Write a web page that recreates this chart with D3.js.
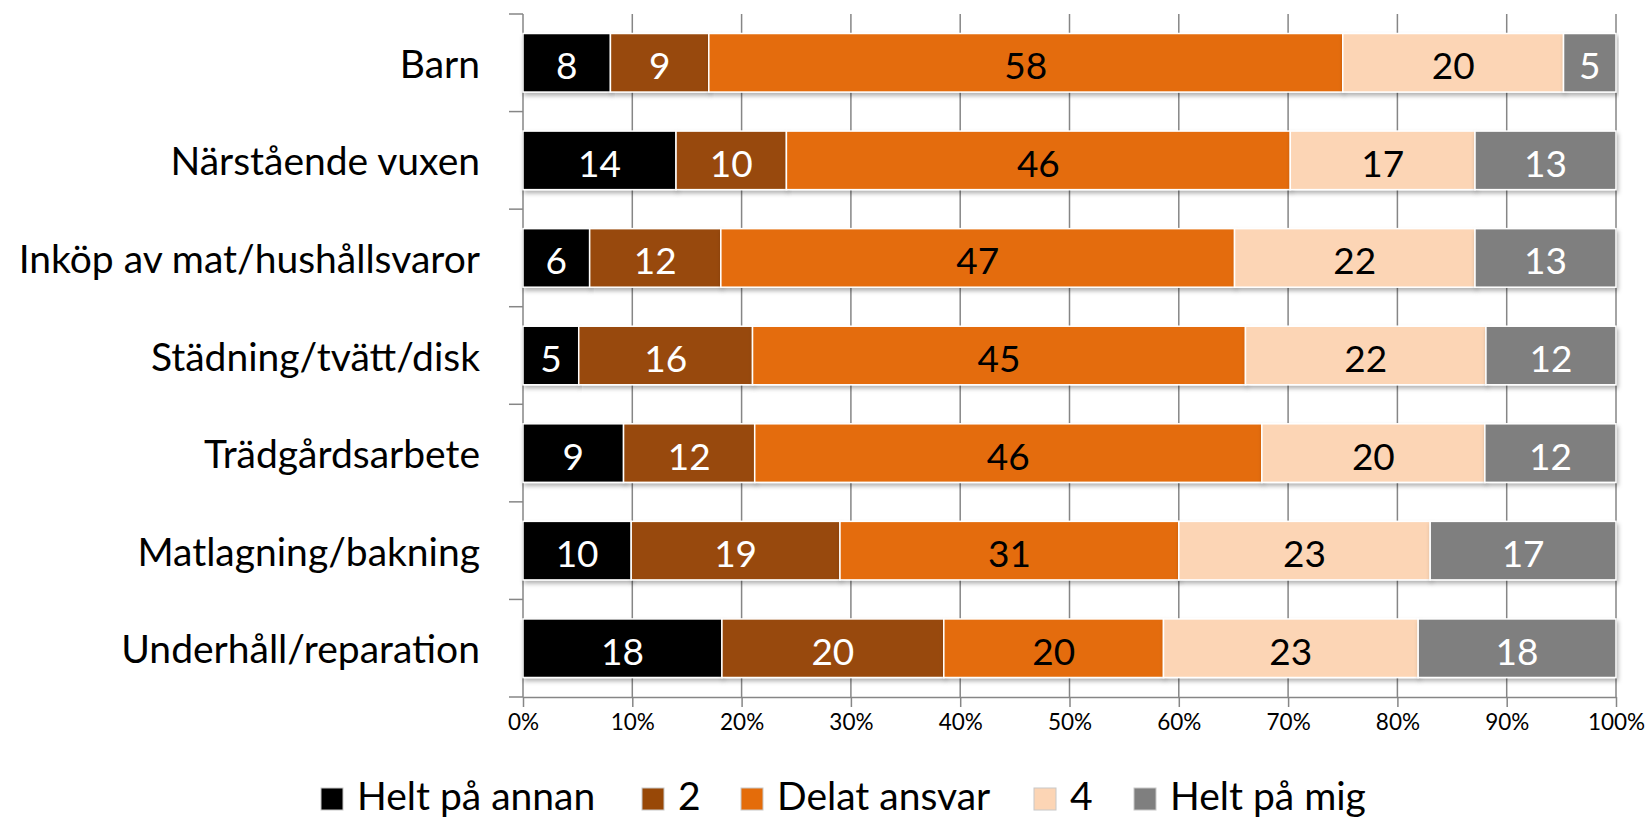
<!DOCTYPE html>
<html>
<head>
<meta charset="utf-8">
<script src="https://cdn.jsdelivr.net/npm/d3@7/dist/d3.min.js"></script>
<style>
  html, body { margin: 0; padding: 0; background: #fff; }
  svg { display: block; font-family: Lato, "Open Sans", sans-serif; }
</style>
</head>
<body>
<svg id="chart" width="1649" height="817"></svg>
<script>
const categories = ["Barn", "Närstående vuxen", "Inköp av mat/hushållsvaror", "Städning/tvätt/disk", "Trädgårdsarbete", "Matlagning/bakning", "Underhåll/reparation"];
const seriesNames = ["Helt på annan", "2", "Delat ansvar", "4", "Helt på mig"];
const heltPaAnnan = [8, 14, 6.1, 5.1, 9.2, 9.9, 18.2];
const s2 = [9, 10.1, 12, 15.9, 12.0, 19.1, 20.3];
const delatAnsvar = [58, 46.1, 47, 45.1, 46.4, 31, 20.1];
const s4 = [20.2, 16.9, 22, 22, 20.4, 23, 23.3];
const heltPaMig = [4.8, 12.9, 12.9, 11.9, 12.0, 17, 18.1];
const xTicks = [0, 0.1, 0.2, 0.3, 0.4, 0.5, 0.6, 0.7, 0.8, 0.9, 1.0];

(function () {
const colors = ["#000000", "#984807", "#E46C0A", "#FCD5B5", "#7F7F7F"];
const textColors = ["#ffffff", "#ffffff", "#000000", "#000000", "#ffffff"];
const seriesValues = [heltPaAnnan, s2, delatAnsvar, s4, heltPaMig];

const rows = categories.map((c, i) => {
  const r = { cat: c };
  seriesNames.forEach((s, j) => r[s] = seriesValues[j][i]);
  return r;
});

const svg = d3.select("#chart");
const pLeft = 523, pRight = 1616, pTop = 14, pBottom = 697;
const axisColor = "#868686";

const x = d3.scaleLinear().domain([0, 1]).range([pLeft, pRight]);
const y = d3.scaleBand().domain(categories).range([pTop, pBottom]).paddingInner(0.4).paddingOuter(0.2);

const stack = d3.stack().keys(seriesNames).offset(d3.stackOffsetExpand);
const stacked = stack(rows);

const defs = svg.append("defs");
const f = defs.append("filter").attr("id", "shadow").attr("x", "-5%").attr("y", "-20%").attr("width", "110%").attr("height", "150%");
f.append("feDropShadow").attr("dx", 1.5).attr("dy", 3).attr("stdDeviation", 2).attr("flood-color", "#000").attr("flood-opacity", 0.3);

// gridlines
svg.append("g").selectAll("line").data(xTicks.filter(d => d > 0)).join("line")
  .attr("x1", d => x(d)).attr("x2", d => x(d))
  .attr("y1", pTop).attr("y2", pBottom)
  .attr("stroke", axisColor).attr("stroke-width", 1.5);

// bottom axis
const xAxis = svg.append("g").attr("transform", `translate(0,${pBottom})`)
  .call(d3.axisBottom(x).tickValues(xTicks).tickFormat(d3.format(".0%")).tickSize(10).tickSizeOuter(0).tickPadding(7));
xAxis.select(".domain").attr("stroke", axisColor).attr("stroke-width", 1.5);
xAxis.selectAll(".tick line").attr("stroke", axisColor).attr("stroke-width", 1.5);
xAxis.selectAll(".tick text").attr("font-size", 22.5).attr("fill", "#000").attr("font-family", "Lato, sans-serif");

// left axis line with boundary ticks
const lAxis = svg.append("g");
lAxis.append("line").attr("x1", pLeft).attr("x2", pLeft).attr("y1", pTop).attr("y2", pBottom)
  .attr("stroke", axisColor).attr("stroke-width", 1.5);
const bounds = categories.map(c => y(c) - y.step() * y.paddingInner() / 2);
bounds.push(pBottom);
bounds[0] = pTop;
lAxis.selectAll("line.t").data(bounds).join("line").attr("class", "t")
  .attr("x1", pLeft - 14).attr("x2", pLeft).attr("y1", d => d).attr("y2", d => d)
  .attr("stroke", axisColor).attr("stroke-width", 1.5);

// category labels
svg.append("g").selectAll("text").data(categories).join("text")
  .attr("x", 480).attr("y", d => y(d) + y.bandwidth() / 2)
  .attr("text-anchor", "end").attr("dominant-baseline", "central")
  .attr("font-size", 39).attr("fill", "#000")
  .text(d => d);

// bars
const barG = svg.append("g");
stacked.forEach((layer, j) => {
  const g = barG.append("g");
  g.selectAll("rect").data(layer).join("rect")
    .attr("x", d => x(d[0])).attr("width", d => x(d[1]) - x(d[0]))
    .attr("y", d => y(d.data.cat)).attr("height", y.bandwidth())
    .attr("fill", colors[j]).attr("stroke", "#fff").attr("stroke-width", 1.5)
    .attr("filter", "url(#shadow)");
});
stacked.forEach((layer, j) => {
  barG.append("g").selectAll("text").data(layer).join("text")
    .attr("x", d => (x(d[0]) + x(d[1])) / 2)
    .attr("y", d => y(d.data.cat) + y.bandwidth() / 2 + 2)
    .attr("text-anchor", "middle").attr("dominant-baseline", "central")
    .attr("font-size", 37).attr("fill", textColors[j])
    .text(d => d3.format(".0f")(d.data[seriesNames[j]]));
});

// legend
const legendX = [321, 642, 741, 1034, 1134];
const lg = svg.append("g");
seriesNames.forEach((s, j) => {
  const g = lg.append("g").attr("transform", `translate(${legendX[j]},788)`);
  g.append("rect").attr("width", 22).attr("height", 22).attr("fill", colors[j])
    .attr("stroke", "#c8c8c8").attr("stroke-width", 1);
  g.append("text").attr("x", 36).attr("y", 22).attr("font-size", 39).attr("fill", "#000").text(s);
});
})();
</script>
</body>
</html>
